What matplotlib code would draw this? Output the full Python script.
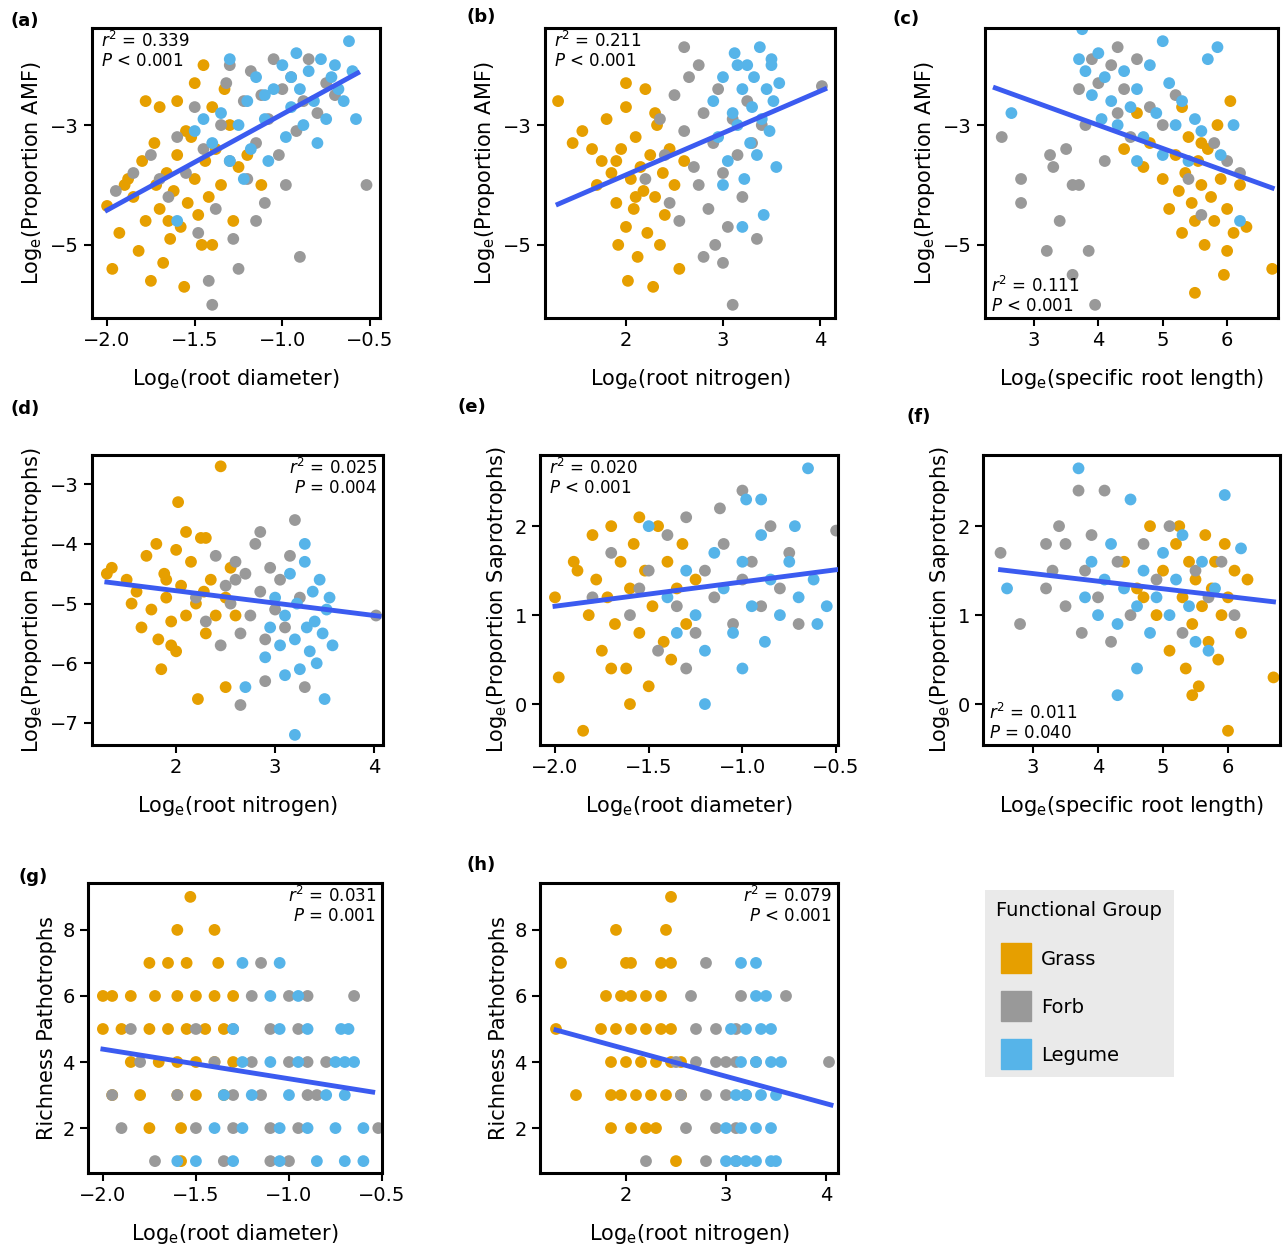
import numpy as np
import matplotlib
matplotlib.use("Agg")
import matplotlib.pyplot as plt
from matplotlib.lines import Line2D

plt.rcParams['font.family'] = ['DejaVu Sans']
plt.rcParams['mathtext.fontset'] = 'dejavusans'

GRASS, FORB, LEGUME = "#E69F00", "#999999", "#56B4E9"
LINE = "#3B5BF0"

# ---- data: (x, y) per functional group ----
grass_a = [(-2.0,-4.35),(-1.97,-5.4),(-1.93,-4.8),(-1.88,-3.9),(-1.85,-4.2),(-1.82,-5.1),(-1.8,-3.6),(-1.78,-4.6),(-1.75,-5.6),(-1.73,-3.3),(-1.72,-4.0),(-1.7,-4.4),(-1.68,-5.3),(-1.66,-3.8),(-1.64,-4.9),(-1.62,-4.1),(-1.6,-3.5),(-1.58,-4.7),(-1.56,-5.7),(-1.54,-4.3),(-1.52,-3.2),(-1.5,-3.9),(-1.48,-4.5),(-1.46,-5.0),(-1.44,-3.6),(-1.42,-4.2),(-1.4,-2.7),(-1.38,-3.4),(-1.35,-4.0),(-1.33,-2.4),(-1.3,-3.0),(-1.28,-4.6),(-1.25,-3.7),(-1.5,-2.3),(-1.6,-2.6),(-1.78,-2.6),(-1.7,-2.7),(-1.9,-4.0),(-1.65,-4.6),(-1.55,-3.1),(-1.45,-2.0),(-1.2,-3.5),(-1.12,-4.0),(-1.4,-5.0)]
forb_a = [(-1.95,-4.1),(-1.85,-3.8),(-1.75,-3.5),(-1.65,-4.2),(-1.6,-3.2),(-1.55,-3.8),(-1.5,-2.7),(-1.48,-4.8),(-1.45,-3.4),(-1.42,-5.6),(-1.4,-6.0),(-1.38,-4.4),(-1.35,-3.0),(-1.32,-2.3),(-1.3,-3.6),(-1.28,-4.9),(-1.25,-5.4),(-1.22,-2.6),(-1.2,-3.9),(-1.18,-2.1),(-1.15,-3.3),(-1.12,-2.5),(-1.1,-4.3),(-1.08,-2.9),(-1.05,-1.9),(-1.02,-3.5),(-1.0,-2.4),(-0.98,-4.0),(-0.95,-2.2),(-0.92,-3.1),(-0.9,-5.2),(-0.88,-2.6),(-0.85,-1.9),(-0.8,-2.8),(-0.75,-2.3),(-0.7,-2.5),(-0.52,-4.0),(-1.3,-2.0),(-1.15,-4.6),(-1.7,-3.9)]
legume_a = [(-1.6,-4.6),(-1.5,-3.1),(-1.45,-2.9),(-1.4,-3.3),(-1.35,-2.8),(-1.3,-1.9),(-1.25,-3.0),(-1.2,-2.6),(-1.18,-3.4),(-1.15,-2.2),(-1.1,-2.9),(-1.08,-3.6),(-1.05,-2.4),(-1.0,-2.0),(-0.98,-3.2),(-0.95,-2.7),(-0.92,-1.8),(-0.9,-2.4),(-0.88,-3.0),(-0.85,-2.1),(-0.82,-2.6),(-0.8,-3.3),(-0.78,-1.9),(-0.75,-2.9),(-0.72,-2.2),(-0.7,-2.0),(-0.68,-2.4),(-0.65,-2.6),(-0.62,-1.6),(-0.6,-2.1),(-0.58,-2.9),(-1.3,-3.6),(-1.22,-3.9),(-1.1,-2.5),(-0.95,-2.2)]

grass_b = [(1.3,-2.6),(1.45,-3.3),(1.55,-3.1),(1.7,-4.0),(1.75,-3.6),(1.8,-2.9),(1.85,-3.8),(1.9,-4.3),(1.92,-5.0),(1.95,-3.4),(2.0,-2.7),(2.0,-4.7),(2.02,-5.6),(2.05,-3.9),(2.08,-4.4),(2.1,-3.2),(2.12,-5.2),(2.15,-3.7),(2.18,-4.1),(2.2,-2.4),(2.22,-4.8),(2.25,-3.5),(2.28,-5.7),(2.3,-4.2),(2.32,-3.0),(2.35,-5.0),(2.38,-3.8),(2.4,-4.5),(2.45,-3.4),(2.5,-4.0),(2.55,-5.4),(2.6,-3.6),(2.1,-4.2),(1.9,-3.6),(2.3,-2.8),(1.65,-3.4),(2.0,-2.3)]
forb_b = [(2.2,-3.9),(2.35,-2.9),(2.4,-3.5),(2.5,-2.5),(2.55,-4.6),(2.6,-3.1),(2.65,-2.2),(2.7,-3.7),(2.75,-4.0),(2.6,-1.7),(2.8,-2.8),(2.85,-4.4),(2.9,-3.3),(2.92,-5.0),(2.95,-2.4),(3.0,-3.8),(3.0,-5.3),(3.05,-4.7),(3.1,-2.9),(3.1,-6.0),(3.15,-3.5),(3.2,-4.2),(3.25,-2.6),(3.3,-3.3),(3.35,-4.9),(2.75,-2.0),(3.4,-3.0),(4.02,-2.35),(2.45,-4.3),(2.8,-5.2)]
legume_b = [(2.9,-2.6),(2.95,-3.2),(3.0,-2.2),(3.05,-3.6),(3.1,-2.8),(3.12,-1.8),(3.15,-3.0),(3.2,-2.4),(3.22,-3.9),(3.25,-2.0),(3.28,-3.3),(3.3,-2.7),(3.32,-2.2),(3.35,-3.5),(3.38,-1.7),(3.4,-2.9),(3.42,-4.5),(3.45,-2.4),(3.48,-3.1),(3.5,-2.0),(3.52,-2.6),(3.55,-3.7),(3.58,-2.3),(3.2,-4.7),(3.0,-4.0),(3.15,-2.0),(3.5,-1.9)]

grass_c = [(4.4,-3.4),(4.6,-2.8),(4.7,-3.7),(4.8,-3.3),(5.0,-3.9),(5.1,-4.4),(5.2,-3.5),(5.25,-4.1),(5.3,-4.8),(5.35,-3.8),(5.4,-3.2),(5.45,-4.3),(5.5,-4.6),(5.5,-5.8),(5.55,-3.6),(5.6,-4.0),(5.65,-5.0),(5.7,-3.4),(5.75,-4.2),(5.8,-4.6),(5.85,-3.0),(5.9,-3.9),(5.95,-5.5),(6.0,-4.4),(6.05,-2.6),(6.1,-4.8),(6.2,-4.0),(6.3,-4.7),(6.7,-5.4),(6.0,-5.1),(5.3,-2.7),(5.6,-3.3)]
forb_c = [(2.5,-3.2),(2.8,-4.3),(2.8,-3.9),(3.2,-5.1),(3.25,-3.5),(3.3,-3.7),(3.4,-4.6),(3.5,-3.4),(3.6,-5.5),(3.6,-4.0),(3.7,-2.4),(3.8,-3.0),(3.85,-5.1),(3.9,-1.9),(3.95,-6.0),(4.0,-2.3),(4.1,-3.6),(4.2,-2.0),(4.3,-2.8),(4.4,-2.4),(4.5,-3.2),(4.6,-1.9),(4.8,-2.7),(5.0,-3.0),(5.2,-2.5),(5.4,-3.9),(5.6,-4.5),(5.8,-3.3),(6.0,-3.6),(6.2,-3.8),(3.7,-4.0),(4.3,-1.7)]
legume_c = [(2.65,-2.8),(3.7,-1.9),(3.75,-1.4),(3.8,-2.1),(3.9,-2.5),(4.0,-1.8),(4.05,-2.9),(4.1,-2.2),(4.2,-2.6),(4.3,-3.0),(4.4,-2.1),(4.5,-2.7),(4.6,-2.4),(4.7,-3.2),(4.8,-2.0),(4.9,-2.8),(5.0,-3.5),(5.1,-2.3),(5.2,-3.0),(5.3,-2.6),(5.4,-3.6),(5.5,-2.9),(5.6,-3.1),(5.7,-1.9),(5.85,-1.7),(5.9,-3.5),(6.1,-3.0),(6.2,-4.6),(4.6,-3.6),(5.0,-1.6)]

grass_d = [(1.3,-4.5),(1.35,-4.4),(1.5,-4.6),(1.55,-5.0),(1.6,-4.8),(1.65,-5.4),(1.7,-4.2),(1.75,-5.1),(1.8,-4.0),(1.82,-5.6),(1.85,-6.1),(1.88,-4.5),(1.9,-4.9),(1.95,-5.3),(2.0,-4.1),(2.0,-5.8),(2.02,-3.3),(2.05,-4.7),(2.1,-5.2),(2.15,-4.3),(2.2,-5.0),(2.22,-6.6),(2.25,-3.9),(2.28,-4.8),(2.3,-5.5),(2.35,-4.6),(2.4,-5.2),(2.45,-2.7),(2.5,-6.4),(2.5,-4.9),(2.55,-4.4),(1.95,-5.7),(2.1,-3.8),(2.3,-3.9),(1.9,-4.6),(2.6,-5.2)]
forb_d = [(2.2,-4.9),(2.3,-5.3),(2.4,-4.2),(2.45,-5.7),(2.5,-4.7),(2.55,-5.0),(2.6,-4.3),(2.65,-5.5),(2.65,-6.7),(2.7,-4.5),(2.75,-5.2),(2.8,-4.0),(2.85,-4.8),(2.9,-5.6),(2.9,-6.3),(2.95,-4.4),(3.0,-5.1),(3.05,-4.6),(3.1,-5.4),(3.2,-3.6),(3.15,-4.2),(3.25,-4.9),(3.3,-6.4),(4.02,-5.2),(2.6,-4.6),(2.85,-3.8)]
legume_d = [(2.9,-5.9),(2.95,-5.4),(3.0,-4.9),(3.05,-5.7),(3.1,-5.2),(3.15,-4.5),(3.2,-5.6),(3.2,-7.2),(3.22,-5.0),(3.25,-6.1),(3.3,-4.3),(3.32,-5.4),(3.35,-5.8),(3.38,-4.8),(3.4,-5.3),(3.42,-6.0),(3.45,-4.6),(3.48,-5.5),(3.5,-6.6),(3.52,-5.1),(3.55,-4.9),(3.58,-5.7),(2.7,-6.4),(3.1,-6.2),(3.3,-4.0)]

grass_e = [(-2.0,1.2),(-1.98,0.3),(-1.9,1.6),(-1.85,-0.3),(-1.82,1.0),(-1.8,1.9),(-1.78,1.4),(-1.75,0.6),(-1.72,1.2),(-1.7,2.0),(-1.68,0.9),(-1.65,1.6),(-1.62,0.4),(-1.6,1.3),(-1.58,1.8),(-1.55,0.8),(-1.52,1.5),(-1.5,0.2),(-1.48,1.1),(-1.45,2.0),(-1.42,0.7),(-1.4,1.6),(-1.38,0.5),(-1.35,1.3),(-1.32,1.8),(-1.3,0.9),(-1.25,1.4),(-1.6,0.0),(-1.7,0.4),(-1.55,2.1),(-1.88,1.5)]
forb_e = [(-1.8,1.2),(-1.7,1.7),(-1.6,1.0),(-1.5,1.5),(-1.45,0.6),(-1.4,1.9),(-1.35,1.1),(-1.3,2.1),(-1.25,0.8),(-1.2,1.5),(-1.15,1.2),(-1.1,1.8),(-1.05,0.9),(-1.0,2.4),(-1.0,1.4),(-0.95,1.6),(-0.9,1.1),(-0.85,2.0),(-0.8,1.3),(-0.75,1.7),(-0.7,0.9),(-0.5,1.95),(-1.3,0.4),(-1.12,2.2),(-1.55,1.3)]
legume_e = [(-1.5,2.0),(-1.4,1.2),(-1.35,0.8),(-1.3,1.5),(-1.25,1.0),(-1.2,0.6),(-1.15,1.7),(-1.1,1.3),(-1.05,0.8),(-1.0,1.6),(-0.98,2.3),(-0.95,1.1),(-0.9,1.9),(-0.88,0.7),(-0.85,1.4),(-0.8,1.0),(-0.75,1.6),(-0.7,1.2),(-0.65,2.65),(-0.62,1.4),(-0.6,0.9),(-0.55,1.1),(-1.2,0.0),(-0.9,2.3),(-1.0,0.4),(-0.72,2.0)]

grass_f = [(4.4,1.6),(4.6,1.3),(4.8,2.0),(4.9,1.0),(5.0,1.5),(5.1,0.6),(5.2,1.8),(5.3,1.2),(5.35,0.4),(5.4,1.6),(5.45,0.9),(5.5,1.4),(5.55,0.2),(5.6,1.1),(5.65,1.9),(5.7,0.7),(5.75,1.3),(5.8,1.6),(5.85,0.5),(5.9,1.0),(5.95,1.8),(6.0,1.2),(6.0,-0.3),(6.1,1.5),(6.2,0.8),(6.3,1.4),(6.7,0.3),(5.45,0.1),(5.25,2.0),(4.7,1.2)]
forb_f = [(2.5,1.7),(2.8,0.9),(3.2,1.3),(3.3,1.5),(3.4,2.0),(3.5,1.8),(3.5,1.1),(3.7,2.4),(3.75,0.8),(3.8,1.5),(3.9,1.9),(4.0,1.2),(4.1,2.4),(4.2,0.7),(4.3,1.6),(4.5,1.0),(4.7,1.8),(4.9,1.4),(5.1,2.0),(5.3,0.8),(5.5,1.5),(5.7,1.2),(5.9,1.6),(6.1,1.0),(3.2,1.8)]
legume_f = [(2.6,1.3),(3.7,2.65),(3.8,1.2),(3.9,1.6),(4.0,1.0),(4.1,1.4),(4.2,1.8),(4.3,0.9),(4.4,1.3),(4.5,2.3),(4.6,1.1),(4.7,1.5),(4.8,0.8),(4.9,1.2),(5.0,1.7),(5.1,1.0),(5.2,1.4),(5.3,1.9),(5.4,1.1),(5.5,0.7),(5.6,1.6),(5.7,0.6),(5.8,1.3),(6.2,1.75),(4.3,0.1),(4.6,0.4),(5.95,2.35)]

# richness panels: {richness: [x values]}
grass_g = {1: [-1.58], 2: [-1.75, -1.58], 3: [-1.95, -1.8, -1.6, -1.5, -1.35],
           4: [-1.85, -1.7, -1.6, -1.5, -1.4, -1.3], 5: [-2.0, -1.9, -1.75, -1.65, -1.55, -1.45, -1.35],
           6: [-2.0, -1.95, -1.85, -1.72, -1.6, -1.5, -1.4, -1.3], 7: [-1.75, -1.65, -1.55, -1.38],
           8: [-1.6, -1.4], 9: [-1.53]}
forb_g = {1: [-1.72, -1.35, -1.1, -1.0], 2: [-1.9, -1.5, -1.3, -1.1, -0.95, -0.52],
          3: [-1.95, -1.6, -1.3, -1.15, -0.9, -0.85], 4: [-1.8, -1.4, -1.2, -1.0, -0.9, -0.8],
          5: [-1.85, -1.5, -1.3, -1.1, -0.95], 6: [-1.2, -1.0, -0.9, -0.65], 7: [-1.15]}
legume_g = {1: [-1.6, -1.5, -1.3, -1.05, -0.85, -0.7, -0.6], 2: [-1.4, -1.25, -1.05, -0.9, -0.75, -0.6],
            3: [-1.35, -1.2, -1.0, -0.8, -0.7], 4: [-1.25, -1.1, -0.95, -0.75, -0.7, -0.65],
            5: [-1.3, -1.05, -0.9, -0.72, -0.68], 6: [-1.1, -0.95], 7: [-1.25, -1.05]}
grass_h = {1: [2.5], 2: [1.85, 2.05, 2.2, 2.3], 3: [1.5, 1.85, 1.95, 2.1, 2.25, 2.4, 2.55],
           4: [1.85, 2.0, 2.15, 2.3, 2.45, 2.55], 5: [1.3, 1.75, 1.9, 2.05, 2.2, 2.35, 2.45],
           6: [1.8, 1.95, 2.05, 2.2, 2.35], 7: [1.35, 2.0, 2.05, 2.35, 2.45], 8: [1.9, 2.4], 9: [2.45]}
forb_h = {1: [2.2, 2.8, 3.1], 2: [2.6, 2.9, 3.1], 3: [2.55, 2.8, 3.0, 3.2],
          4: [2.5, 2.7, 2.9, 3.0, 3.1, 3.3, 4.03], 5: [2.7, 2.9, 3.1], 6: [2.65, 3.15, 3.6], 7: [2.8]}
legume_h = {1: [3.0, 3.1, 3.2, 3.3, 3.45, 3.5], 2: [3.0, 3.15, 3.3, 3.45], 3: [3.1, 3.2, 3.35, 3.5],
            4: [3.15, 3.3, 3.45, 3.55], 5: [3.05, 3.2, 3.35, 3.45], 6: [3.3, 3.4], 7: [3.15, 3.3]}

# fitted lines: (x0, y0, x1, y1)
fits = {"a": (-2.0, -4.42, -0.57, -2.13), "b": (1.3, -4.32, 4.05, -2.4),
        "c": (2.4, -2.38, 6.7, -4.05), "d": (1.3, -4.64, 4.05, -5.21),
        "e": (-2.0, 1.1, -0.5, 1.51), "f": (2.5, 1.51, 6.7, 1.15),
        "g": (-2.0, 4.39, -0.55, 3.09), "h": (1.3, 4.97, 4.05, 2.7)}
stats = {"a": ("0.339", "<", "0.001"), "b": ("0.211", "<", "0.001"), "c": ("0.111", "<", "0.001"),
         "d": ("0.025", "=", "0.004"), "e": ("0.020", "<", "0.001"), "f": ("0.011", "=", "0.040"),
         "g": ("0.031", "=", "0.001"), "h": ("0.079", "<", "0.001")}
# panel letter positions (pixels, top-left)
letters = {"a": (10, 12), "b": (466, 8), "c": (893, 10), "d": (10, 400),
           "e": (458, 398), "f": (906, 408), "g": (18, 868), "h": (466, 856)}

def rows(d):
    return [(x, k) for k, xs in d.items() for x in xs]

LD = r"Log$_{\rm e}$(root diameter)"
LN = r"Log$_{\rm e}$(root nitrogen)"
LS = r"Log$_{\rm e}$(specific root length)"
panels = [
    ("a", (92, 28, 380, 318), grass_a, forb_a, legume_a, (-2.086, -0.443), (-6.22, -1.38),
     [-2.0, -1.5, -1.0, -0.5], [-5, -3], LD, r"Log$_{\rm e}$(Proportion AMF)", "tl"),
    ("b", (545, 28, 835, 318), grass_b, forb_b, legume_b, (1.165, 4.155), (-6.22, -1.38),
     [2, 3, 4], [-5, -3], LN, r"Log$_{\rm e}$(Proportion AMF)", "tl"),
    ("c", (985, 28, 1278, 318), grass_c, forb_c, legume_c, (2.24, 6.79), (-6.22, -1.38),
     [3, 4, 5, 6], [-5, -3], LS, r"Log$_{\rm e}$(Proportion AMF)", "bl"),
    ("d", (92, 455, 383, 745), grass_d, forb_d, legume_d, (1.15, 4.09), (-7.37, -2.51),
     [2, 3, 4], [-7, -6, -5, -4, -3], LN, r"Log$_{\rm e}$(Proportion Pathotrophs)", "tr"),
    ("e", (540, 455, 838, 745), grass_e, forb_e, legume_e, (-2.08, -0.49), (-0.46, 2.80),
     [-2.0, -1.5, -1.0, -0.5], [0, 1, 2], LD, r"Log$_{\rm e}$(Proportion Saprotrophs)", "tl"),
    ("f", (983, 455, 1280, 745), grass_f, forb_f, legume_f, (2.23, 6.8), (-0.46, 2.80),
     [3, 4, 5, 6], [0, 1, 2], LS, r"Log$_{\rm e}$(Proportion Saprotrophs)", "bl"),
    ("g", (88, 883, 382, 1173), rows(grass_g), rows(forb_g), rows(legume_g), (-2.08, -0.51), (0.64, 9.42),
     [-2.0, -1.5, -1.0, -0.5], [2, 4, 6, 8], LD, "Richness Pathotrophs", "tr"),
    ("h", (540, 883, 838, 1173), rows(grass_h), rows(forb_h), rows(legume_h), (1.14, 4.12), (0.64, 9.42),
     [2, 3, 4], [2, 4, 6, 8], LN, "Richness Pathotrophs", "tr"),
]

W, H = 1288, 1259
fig = plt.figure(figsize=(W / 100, H / 100), dpi=100)

for (lab, (x0, y0, x1, y1), g, f, l, xl, yl, xt, yt, xlab, ylab, pos) in panels:
    ax = fig.add_axes([x0 / W, 1 - y1 / H, (x1 - x0) / W, (y1 - y0) / H])
    for pts, c in ((g, GRASS), (f, FORB), (l, LEGUME)):
        arr = np.array(pts)
        ax.scatter(arr[:, 0], arr[:, 1], s=72, color=c, edgecolors="none", zorder=2)
    fx0, fy0, fx1, fy1 = fits[lab]
    ax.plot([fx0, fx1], [fy0, fy1], color=LINE, lw=3.5, zorder=3)
    ax.set_xlim(*xl)
    ax.set_ylim(*yl)
    ax.set_xticks(xt)
    ax.set_yticks(yt)
    if xt[0] < 0:
        ax.set_xticklabels([f"\u2212{abs(v):.1f}" for v in xt])
    else:
        ax.set_xticklabels([str(v) for v in xt])
    ax.set_yticklabels([str(v).replace("-", "\u2212") for v in yt])
    ax.tick_params(labelsize=14, width=1.5, length=6, direction="out")
    for s in ax.spines.values():
        s.set_linewidth(2.2)
    ax.set_xlabel(xlab, fontsize=15, labelpad=12)
    ax.set_ylabel(ylab, fontsize=15)
    r2, op, p = stats[lab]
    txt = f"$r^2$ = {r2}\n$P$ {op} {p}"
    if pos == "tl":
        ax.text(0.03, 0.99, txt, transform=ax.transAxes, va="top", ha="left", fontsize=12, linespacing=1.1)
    elif pos == "tr":
        ax.text(0.98, 0.99, txt, transform=ax.transAxes, va="top", ha="right", fontsize=12, linespacing=1.1)
    else:
        ax.text(0.02, 0.01, txt, transform=ax.transAxes, va="bottom", ha="left", fontsize=12, linespacing=1.1)
    lx, ly = letters[lab]
    fig.text(lx / W, 1 - ly / H, f"({lab})", fontsize=13, fontweight="bold", va="top")

handles = [Line2D([], [], marker="s", ls="", ms=22, color=c) for c in (GRASS, FORB, LEGUME)]
leg = fig.legend(handles, ["Grass", "Forb", "Legume"], title="Functional Group",
                 loc="upper left", bbox_to_anchor=(975 / W, 1 - 880 / H), fontsize=14,
                 title_fontsize=14, frameon=True, facecolor="#e5e5e5", edgecolor="none",
                 fancybox=False, labelspacing=1.5, handletextpad=0.3, borderpad=0.6)
leg._legend_box.align = "left"

fig.savefig("out.png", dpi=100)
